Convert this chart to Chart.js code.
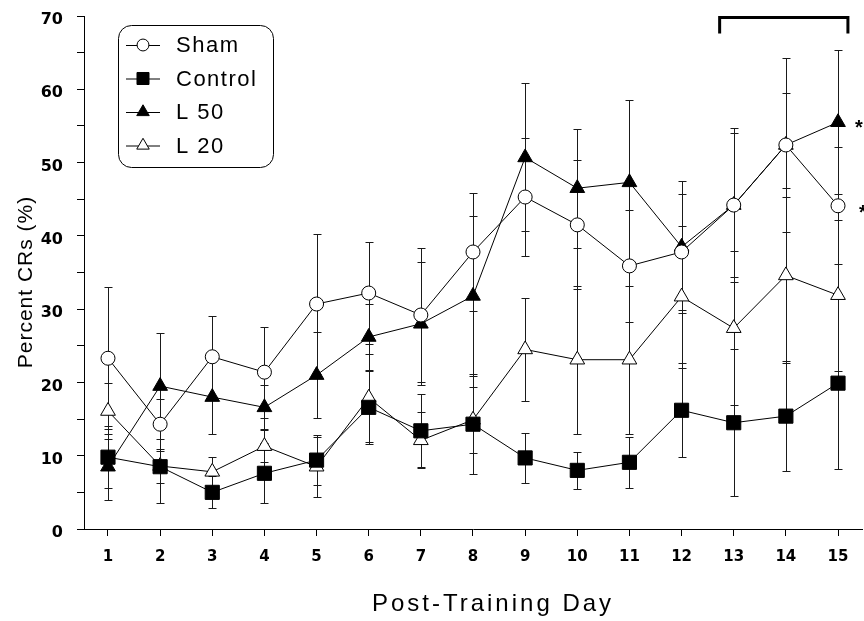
<!DOCTYPE html>
<html>
<head>
<meta charset="utf-8">
<script src="https://cdn.jsdelivr.net/npm/chart.js@4.4.1/dist/chart.umd.min.js"></script>
<style>
  html, body { margin: 0; padding: 0; background: #fff; }
  #wrap { width: 864px; height: 621px; }
</style>
</head>
<body>
<div id="wrap"><canvas id="crChart" width="864" height="621"></canvas></div>
<script>
// 資料
const days = [1, 2, 3, 4, 5, 6, 7, 8, 9, 10, 11, 12, 13, 14, 15];
const yTickLabels = [0, 10, 20, 30, 40, 50, 60, 70];

const shamMean = [23.3, 14.3, 23.5, 21.4, 30.7, 32.2, 29.2, 37.8, 45.3, 41.5, 35.9, 37.8, 44.2, 52.4, 44.1];
const shamErr  = [9.7, 3.4, 5.6, 6.2, 9.5, 7.0, 9.1, 8.0, 8.0, 8.8, 7.6, 7.9, 9.8, 7.1, 8.0];

const controlMean = [9.8, 8.5, 5.0, 7.6, 9.4, 16.6, 13.4, 14.3, 9.7, 8.0, 9.1, 16.2, 14.5, 15.4, 19.9];
const controlErr  = [4.2, 2.2, 2.2, 4.1, 3.4, 5.0, 5.0, 6.8, 3.4, 2.5, 3.5, 6.4, 10.0, 7.5, 11.7];

const l50Mean = [8.5, 19.5, 18.0, 16.6, 21.0, 26.2, 28.0, 31.8, 50.7, 46.5, 47.3, 38.5, 44.2, 52.4, 55.5];
const l50Err  = [4.5, 7.2, 5.1, 3.0, 5.9, 4.5, 8.4, 10.9, 10.1, 8.1, 11.2, 9.0, 10.5, 11.9, 9.8];

const l20Mean = [16.1, 8.6, 7.8, 11.3, 8.5, 17.9, 12.1, 14.9, 24.5, 23.1, 23.1, 31.7, 27.4, 34.6, 31.9];
const l20Err  = [3.8, 5.1, 2.0, 2.2, 4.1, 6.0, 3.8, 4.5, 7.0, 10.1, 10.1, 9.7, 10.5, 11.9, 10.3];

const FONT = "'Liberation Sans', Arial, Helvetica, sans-serif";
const TICK_FONT = "'DejaVu Sans', Verdana, sans-serif";

function toPoints(values) {
  return days.map((d, i) => ({ x: d, y: values[i] }));
}

function series(label, values, errors, pointStyle, filled, radius) {
  return {
    label: label,
    data: toPoints(values),
    errors: errors,
    borderColor: '#000',
    borderWidth: 1,
    pointStyle: pointStyle,
    pointRadius: radius,
    pointBorderWidth: 1,
    pointBorderColor: '#000',
    pointBackgroundColor: filled ? '#000' : '#fff',
    tension: 0,
    fill: false,
    clip: false
  };
}

// 誤差線（在資料點之下繪製）
const errorBars = {
  id: 'errorBars',
  beforeDatasetsDraw(chart) {
    const { ctx, scales: { x, y } } = chart;
    ctx.save();
    ctx.strokeStyle = '#1a1a1a';
    ctx.lineWidth = 1;
    chart.data.datasets.forEach(ds => {
      ds.data.forEach((p, i) => {
        const px = Math.round(x.getPixelForValue(p.x)) + 0.5;
        const top = Math.round(y.getPixelForValue(p.y + ds.errors[i])) + 0.5;
        const bot = Math.round(y.getPixelForValue(p.y - ds.errors[i])) + 0.5;
        ctx.beginPath();
        ctx.moveTo(px, top);
        ctx.lineTo(px, bot);
        ctx.moveTo(px - 4, top);
        ctx.lineTo(px + 4, top);
        ctx.moveTo(px - 4, bot);
        ctx.lineTo(px + 4, bot);
        ctx.stroke();
      });
    });
    ctx.restore();
  }
};

// 圖例、括號、星號與座標軸標題
const annotations = {
  id: 'annotations',
  afterDraw(chart) {
    const { ctx, scales: { x, y } } = chart;
    ctx.save();

    // 圖例框
    ctx.strokeStyle = '#000';
    ctx.lineWidth = 1;
    ctx.beginPath();
    ctx.roundRect(118.5, 25.5, 155, 142, 13);
    ctx.stroke();

    ctx.font = '22px ' + FONT;
    ctx.textBaseline = 'middle';
    ctx.textAlign = 'left';
    if ('letterSpacing' in ctx) ctx.letterSpacing = '1.5px';
    chart.data.datasets.forEach((ds, i) => {
      const ly = 45 + i * 33.5;
      ctx.strokeStyle = '#000';
      ctx.beginPath();
      ctx.moveTo(126, ly + 0.5);
      ctx.lineTo(160, ly + 0.5);
      ctx.stroke();
      ctx.fillStyle = ds.pointBackgroundColor;
      Chart.helpers.drawPoint(ctx, {
        pointStyle: ds.pointStyle,
        radius: ds.pointRadius * 0.85,
        borderWidth: 1,
        rotation: 0
      }, 143, ly);
      ctx.fillStyle = '#000';
      ctx.fillText(ds.label, 176, ly + 1);
    });

    // 第 13–15 天的括號
    const bx0 = x.getPixelForValue(12.73);
    const bx1 = x.getPixelForValue(15.19);
    const byTop = y.getPixelForValue(69.8);
    const byBot = y.getPixelForValue(67.6);
    ctx.lineWidth = 3;
    ctx.beginPath();
    ctx.moveTo(bx0, byBot);
    ctx.lineTo(bx0, byTop);
    ctx.lineTo(bx1, byTop);
    ctx.lineTo(bx1, byBot);
    ctx.stroke();

    // 星號
    ctx.font = 'bold 20px ' + FONT;
    if ('letterSpacing' in ctx) ctx.letterSpacing = '0px';
    ctx.textAlign = 'center';
    const last = days.length - 1;
    ctx.fillText('*', x.getPixelForValue(days[last]) + 21, y.getPixelForValue(l50Mean[last]) + 6);
    ctx.fillText('*', x.getPixelForValue(days[last]) + 25, y.getPixelForValue(shamMean[last]) + 8);

    // 座標軸標題
    ctx.font = '24px ' + FONT;
    if ('letterSpacing' in ctx) ctx.letterSpacing = '3px';
    ctx.fillText('Post-Training Day', 493, 604);
    ctx.font = '21px ' + FONT;
    if ('letterSpacing' in ctx) ctx.letterSpacing = '1px';
    ctx.translate(26, 282);
    ctx.rotate(-Math.PI / 2);
    ctx.fillText('Percent CRs (%)', 0, 0);

    ctx.restore();
  }
};

new Chart(document.getElementById('crChart'), {
  type: 'line',
  data: {
    datasets: [
      series('Sham', shamMean, shamErr, 'circle', false, 7),
      series('Control', controlMean, controlErr, 'rect', true, 10),
      series('L 50', l50Mean, l50Err, 'triangle', true, 8.5),
      series('L 20', l20Mean, l20Err, 'triangle', false, 8.5)
    ]
  },
  options: {
    responsive: false,
    animation: false,
    layout: {
      autoPadding: false,
      padding: { top: 16, right: 2, left: 0, bottom: 0 }
    },
    plugins: {
      legend: { display: false },
      tooltip: { enabled: false }
    },
    scales: {
      x: {
        type: 'linear',
        min: 0.54,
        max: 15.46,
        afterFit: s => {
          s.height = 92;
          s.paddingLeft = 0;
          s.paddingRight = 0;
        },
        afterBuildTicks: s => {
          s.ticks = days.map(d => ({ value: d }));
        },
        grid: {
          drawOnChartArea: false,
          tickLength: 7,
          tickColor: '#000'
        },
        border: { color: '#000', width: 1 },
        ticks: {
          padding: 12,
          color: '#000',
          font: { family: TICK_FONT, size: 15, weight: 'bold' },
          callback: v => String(v)
        }
      },
      y: {
        min: 0,
        max: 70,
        afterFit: s => {
          s.width = 84;
          s.paddingTop = 0;
          s.paddingBottom = 0;
        },
        afterBuildTicks: s => {
          const t = [];
          for (let v = 0; v <= 70; v += 5) t.push({ value: v });
          s.ticks = t;
        },
        grid: {
          drawOnChartArea: false,
          tickLength: 7,
          tickColor: '#000'
        },
        border: { color: '#000', width: 1 },
        ticks: {
          padding: 14,
          labelOffset: 4,
          color: '#000',
          font: { family: TICK_FONT, size: 16, weight: 'bold' },
          callback: v => yTickLabels.includes(v) ? String(v) : ''
        }
      }
    }
  },
  plugins: [errorBars, annotations]
});
</script>
</body>
</html>
